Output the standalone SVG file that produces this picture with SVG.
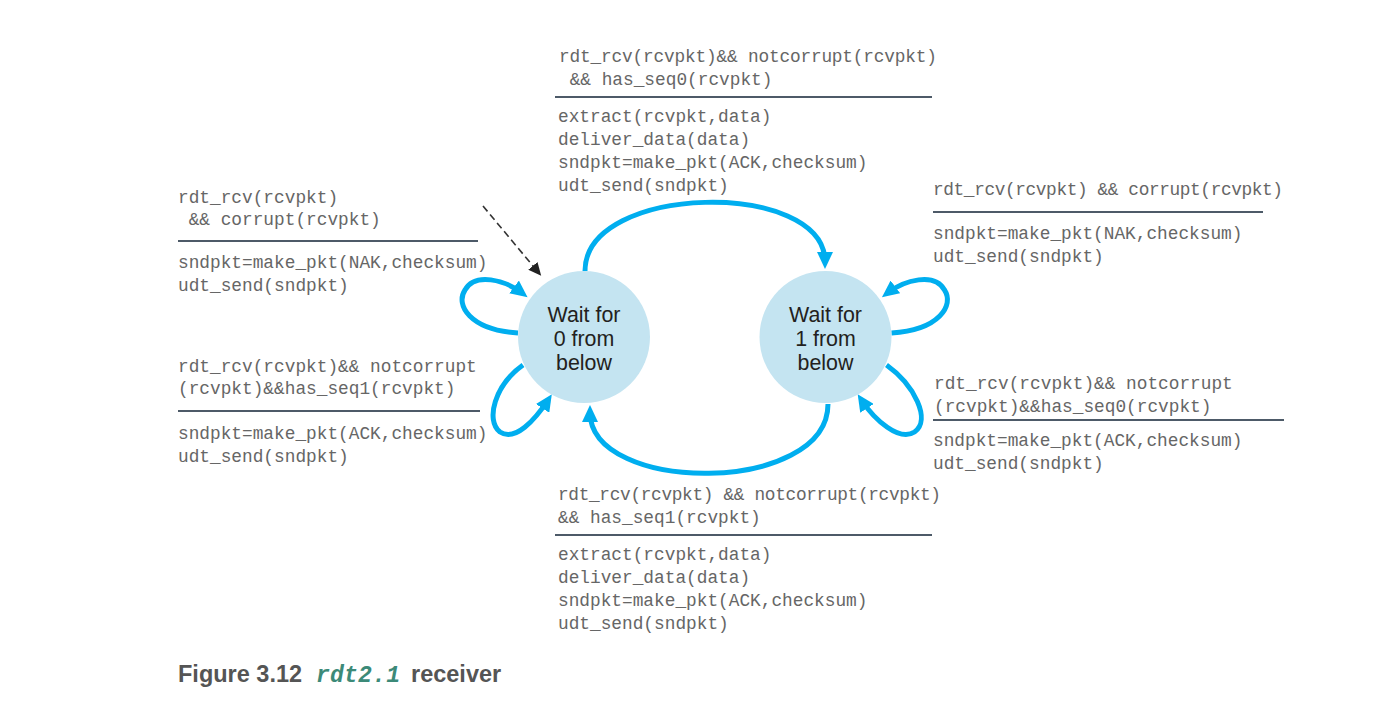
<svg xmlns="http://www.w3.org/2000/svg" width="1392" height="701" viewBox="0 0 1392 701">
<style>
.t{font-family:"Liberation Mono","Courier New",monospace;font-size:17.8px;fill:#666}
.sep{stroke:#4d5a68;stroke-width:2}
.st{fill:#c4e4f1}
.sl{font-family:"Liberation Sans",Arial,sans-serif;font-size:21.4px;fill:#231f20;text-anchor:middle}
.arc{fill:none;stroke:#00aeef;stroke-width:5}
.cap{font-family:"Liberation Sans",Arial,sans-serif;font-weight:bold;font-size:23.5px;fill:#555}
</style>
<defs>
<marker id="ah" markerUnits="userSpaceOnUse" markerWidth="18" markerHeight="16" refX="10" refY="8" orient="auto">
<path d="M0,0 L17,8 L0,16 Z" fill="#00aeef"/>
</marker>
<marker id="ahk" markerUnits="userSpaceOnUse" markerWidth="14" markerHeight="12" refX="8" refY="6" orient="auto">
<path d="M0,0 L13,6 L0,12 Z" fill="#222"/>
</marker>
</defs>
<rect width="1392" height="701" fill="#fff"/>

<g id="connectors">
<path class="arc" d="M585,271 C585,183 825,179 825,262" marker-end="url(#ah)"/>
<path class="arc" d="M828,404 C828,495 590,495 590,412" marker-end="url(#ah)"/>
<path class="arc" d="M518,333 C470,330 455,305 465,290 C475,272 505,280 522,293" marker-end="url(#ah)"/>
<path class="arc" d="M523,365 C495,385 485,420 500,432 C515,442 535,420 548,400" marker-end="url(#ah)"/>
<path class="arc" d="M891.5,333 C939.5,330 954.5,305 944.5,290 C934.5,272 904.5,280 887.5,293" marker-end="url(#ah)"/>
<path class="arc" d="M886.5,365 C914.5,385 931.5,420 914.5,432 C899.5,442 874.5,420 861.5,400" marker-end="url(#ah)"/>
<path d="M483,206 L538,272" fill="none" stroke="#333" stroke-width="1.6" stroke-dasharray="7,4" marker-end="url(#ahk)"/>
</g>

<g id="state0">
<circle class="st" cx="584" cy="337" r="66"/>
<text class="sl" x="584" y="322">Wait for</text>
<text class="sl" x="584" y="346">0 from</text>
<text class="sl" x="584" y="370">below</text>
</g>
<g id="state1">
<circle class="st" cx="825.5" cy="337" r="66"/>
<text class="sl" x="825.5" y="322">Wait for</text>
<text class="sl" x="825.5" y="346">1 from</text>
<text class="sl" x="825.5" y="370">below</text>
</g>

<g id="label-top">
<text class="t" x="559" y="62" textLength="378">rdt_rcv(rcvpkt)&amp;&amp; notcorrupt(rcvpkt)</text>
<text class="t" x="559" y="85">&#160;&amp;&amp; has_seq0(rcvpkt)</text>
<line class="sep" x1="555" y1="97" x2="932" y2="97"/>
<text class="t" x="558" y="122">extract(rcvpkt,data)</text>
<text class="t" x="558" y="145">deliver_data(data)</text>
<text class="t" x="558" y="168">sndpkt=make_pkt(ACK,checksum)</text>
<text class="t" x="558" y="191">udt_send(sndpkt)</text>
</g>

<g id="label-left-top">
<text class="t" x="178" y="203">rdt_rcv(rcvpkt)</text>
<text class="t" x="178" y="225">&#160;&amp;&amp; corrupt(rcvpkt)</text>
<line class="sep" x1="178" y1="241" x2="478" y2="241"/>
<text class="t" x="178" y="268">sndpkt=make_pkt(NAK,checksum)</text>
<text class="t" x="178" y="291">udt_send(sndpkt)</text>
</g>

<g id="label-left-bottom">
<text class="t" x="178" y="372">rdt_rcv(rcvpkt)&amp;&amp; notcorrupt</text>
<text class="t" x="178" y="394">(rcvpkt)&amp;&amp;has_seq1(rcvpkt)</text>
<line class="sep" x1="178" y1="411" x2="480" y2="411"/>
<text class="t" x="178" y="439">sndpkt=make_pkt(ACK,checksum)</text>
<text class="t" x="178" y="462">udt_send(sndpkt)</text>
</g>

<g id="label-right-top">
<text class="t" x="933" y="195" textLength="350">rdt_rcv(rcvpkt) &amp;&amp; corrupt(rcvpkt)</text>
<line class="sep" x1="933" y1="212" x2="1263" y2="212"/>
<text class="t" x="933" y="239">sndpkt=make_pkt(NAK,checksum)</text>
<text class="t" x="933" y="262">udt_send(sndpkt)</text>
</g>

<g id="label-right-bottom">
<text class="t" x="934" y="389">rdt_rcv(rcvpkt)&amp;&amp; notcorrupt</text>
<text class="t" x="934" y="412">(rcvpkt)&amp;&amp;has_seq0(rcvpkt)</text>
<line class="sep" x1="933" y1="420" x2="1284" y2="420"/>
<text class="t" x="933" y="446">sndpkt=make_pkt(ACK,checksum)</text>
<text class="t" x="933" y="469">udt_send(sndpkt)</text>
</g>

<g id="label-bottom">
<text class="t" x="558" y="500" textLength="383">rdt_rcv(rcvpkt) &amp;&amp; notcorrupt(rcvpkt)</text>
<text class="t" x="558" y="523">&amp;&amp; has_seq1(rcvpkt)</text>
<line class="sep" x1="555" y1="535" x2="932" y2="535"/>
<text class="t" x="558" y="560">extract(rcvpkt,data)</text>
<text class="t" x="558" y="583">deliver_data(data)</text>
<text class="t" x="558" y="606">sndpkt=make_pkt(ACK,checksum)</text>
<text class="t" x="558" y="629">udt_send(sndpkt)</text>
</g>

<g id="caption">
<text class="cap" x="178" y="682">Figure 3.12</text>
<text x="316" y="682" textLength="84" font-family="'Liberation Mono','Courier New',monospace" font-weight="bold" font-style="italic" font-size="23px" fill="#3c8a78">rdt2.1</text>
<text class="cap" x="411" y="682">receiver</text>
</g>
</svg>
